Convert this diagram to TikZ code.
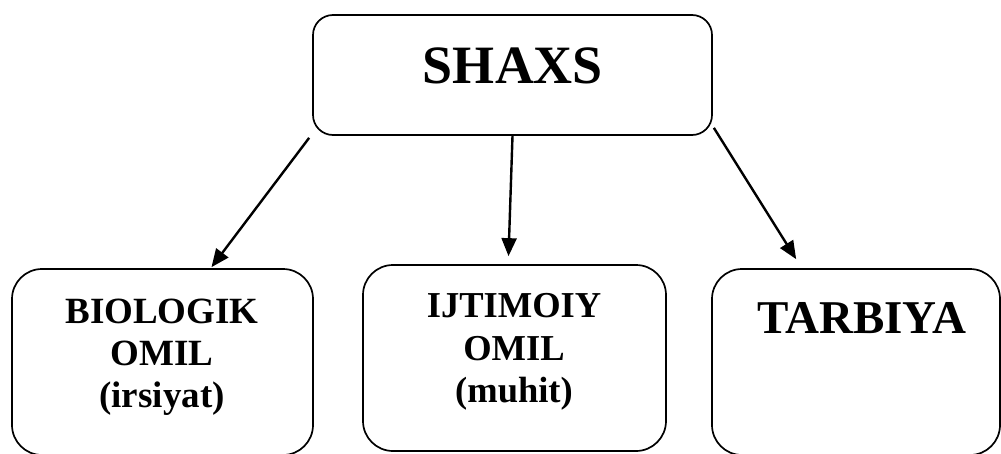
\documentclass[tikz,border=0pt]{standalone}
\usepackage{fontspec}
\setmainfont{Liberation Serif}
\usetikzlibrary{arrows.meta}
\begin{document}
\begin{tikzpicture}[x=1pt,y=-1pt,
  box/.style={draw,line width=1.7pt,rounded corners=#1,inner sep=0pt},
  lbl/.style={anchor=base,inner sep=0pt,font=\bfseries\fontsize{#1}{#1}\selectfont},
  arr/.style={line width=2.4pt,-{Triangle[length=18pt,width=15pt]}}]
\useasboundingbox (0,0) rectangle (1001,453);
\clip (0,0) rectangle (1001,453);
\fill[white] (0,0) rectangle (1001,453);
% boxes
\node[box=20pt,minimum width=399pt,minimum height=120pt] (top) at (512.5,75) {};
\node[box=30pt,minimum width=301pt,minimum height=186pt] (b1) at (162.5,362) {};
\node[box=30pt,minimum width=303pt,minimum height=186pt] (b2) at (514.5,358) {};
\node[box=30pt,minimum width=288pt,minimum height=186pt] (b3) at (856,362) {};
% texts
\node[lbl=54] (t0) at (513,83) {SHAXS};
\node[lbl=37] (t1a) at (162,323) {BIOLOGIK};
\node[lbl=37] (t1b) at (162,365) {OMIL};
\node[lbl=37] (t1c) at (162,407) {(irsiyat)};
\node[lbl=36.5] (t2a) at (514,317) {IJTIMOIY};
\node[lbl=36.5] (t2b) at (514,360) {OMIL};
\node[lbl=36.5] (t2c) at (514,402) {(muhit)};
\node[lbl=47] (t3) at (862,333) {TARBIYA};
% arrows
\draw[arr] ([shift={(-3,2)}]top.south west) -- ([xshift=49pt,yshift=1pt]b1.north);
\draw[arr] (top.south) -- ([xshift=-6pt,yshift=8pt]b2.north);
\draw[arr] ([shift={(1,-8)}]top.south east) -- ([xshift=85pt,yshift=9pt]b3.north west);
\end{tikzpicture}
\end{document}
